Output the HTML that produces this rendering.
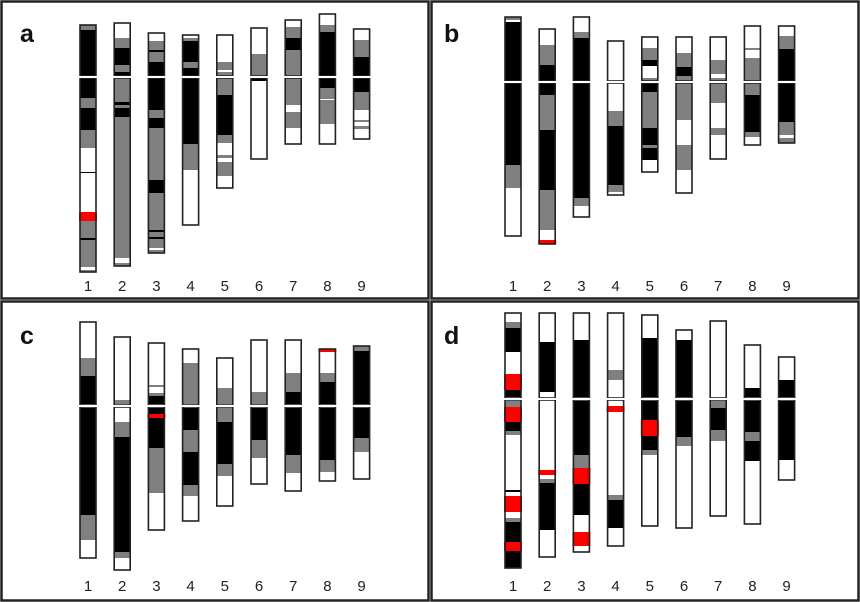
<!DOCTYPE html>
<html><head><meta charset="utf-8"><style>
html,body{margin:0;padding:0;background:#fff;}
svg{display:block;font-family:"Liberation Sans",Arial,sans-serif;}
</style></head><body>
<svg id="fig" width="860" height="602" viewBox="0 0 860 602"></svg>
<script>
// chromosome labels
const chromLabels = ['1','2','3','4','5','6','7','8','9'];
const panelNames = ['a','b','c','d'];
// centromere position (units from panel top) per panel
const centromeres = [77, 82, 106, 99];
// each chromosome: [top, bottom, bands[[start,end,type]]] ; k=black g=grey w=white r=red
const chromA = [
 [25,272,[[25,30,'g'],[30,76,'k'],[78,98,'k'],[98,108,'g'],[108,130,'k'],[130,148,'g'],[148,172,'w'],[172,173,'k'],[173,212,'w'],[212,221,'r'],[221,238,'g'],[238,240,'k'],[240,267,'g'],[267,270,'w'],[270,272,'g']]],
 [23,266,[[23,38,'w'],[38,48,'g'],[48,65,'k'],[65,72,'g'],[72,76,'k'],[78,102,'g'],[102,105,'k'],[105,108,'g'],[108,117,'k'],[117,258,'g'],[258,263,'w'],[263,266,'g']]],
 [33,253,[[33,41,'w'],[41,50,'g'],[50,52,'k'],[52,62,'g'],[62,76,'k'],[78,110,'k'],[110,118,'g'],[118,128,'k'],[128,180,'g'],[180,193,'k'],[193,230,'g'],[230,232,'k'],[232,237,'g'],[237,239,'k'],[239,248,'g'],[248,250,'w'],[250,253,'g']]],
 [35,225,[[35,38,'w'],[38,41,'g'],[41,62,'k'],[62,68,'g'],[68,76,'k'],[78,144,'k'],[144,170,'g'],[170,225,'w']]],
 [35,188,[[35,62,'w'],[62,70,'g'],[70,72,'w'],[72,76,'g'],[78,95,'g'],[95,135,'k'],[135,143,'g'],[143,155,'w'],[155,158,'g'],[158,162,'w'],[162,176,'g'],[176,188,'w']]],
 [28,159,[[28,54,'w'],[54,76,'g'],[78,81,'k'],[81,159,'w']]],
 [20,144,[[20,27,'w'],[27,38,'g'],[38,50,'k'],[50,76,'g'],[78,105,'g'],[105,112,'w'],[112,128,'g'],[128,144,'w']]],
 [14,144,[[14,25,'w'],[25,32,'g'],[32,76,'k'],[78,88,'k'],[88,99,'g'],[99,100,'w'],[100,124,'g'],[124,144,'w']]],
 [29,139,[[29,40,'w'],[40,57,'g'],[57,76,'k'],[78,88,'k'],[88,92,'k'],[92,110,'g'],[110,120,'w'],[120,122,'g'],[122,126,'w'],[126,129,'g'],[129,139,'w']]]
];
const chromB = [
 [17,236,[[17,20,'g'],[20,22,'w'],[22,81,'k'],[83,165,'k'],[165,188,'g'],[188,236,'w']]],
 [29,244,[[29,45,'w'],[45,65,'g'],[65,81,'k'],[83,95,'k'],[95,130,'g'],[130,190,'k'],[190,230,'g'],[230,240,'w'],[240,244,'r']]],
 [17,217,[[17,32,'w'],[32,38,'g'],[38,81,'k'],[83,198,'k'],[198,206,'g'],[206,217,'w']]],
 [41,195,[[41,81,'w'],[83,111,'w'],[111,126,'g'],[126,185,'k'],[185,192,'g'],[192,195,'w']]],
 [37,172,[[37,48,'w'],[48,60,'g'],[60,66,'k'],[66,78,'w'],[78,81,'g'],[83,92,'k'],[92,128,'g'],[128,145,'k'],[145,148,'g'],[148,160,'k'],[160,172,'w']]],
 [37,193,[[37,53,'w'],[53,67,'g'],[67,76,'k'],[76,81,'g'],[83,120,'g'],[120,145,'w'],[145,170,'g'],[170,193,'w']]],
 [37,159,[[37,60,'w'],[60,74,'g'],[74,78,'w'],[78,81,'g'],[83,103,'g'],[103,128,'w'],[128,135,'g'],[135,159,'w']]],
 [26,145,[[26,48,'w'],[48,50,'g'],[50,58,'w'],[58,81,'g'],[83,95,'g'],[95,132,'k'],[132,137,'g'],[137,145,'w']]],
 [26,143,[[26,36,'w'],[36,49,'g'],[49,81,'k'],[83,122,'k'],[122,135,'g'],[135,138,'w'],[138,143,'g']]]
];
const chromC = [
 [22,258,[[22,58,'w'],[58,76,'g'],[76,104,'k'],[108,215,'k'],[215,240,'g'],[240,258,'w']]],
 [37,270,[[37,100,'w'],[100,104,'g'],[108,122,'w'],[122,137,'g'],[137,252,'k'],[252,258,'g'],[258,270,'w']]],
 [43,230,[[43,85,'w'],[85,87,'g'],[87,93,'w'],[93,96,'g'],[96,104,'k'],[108,148,'k'],[114,118,'r'],[148,193,'g'],[193,230,'w']]],
 [49,221,[[49,63,'w'],[63,104,'g'],[108,130,'k'],[130,152,'g'],[152,185,'k'],[185,196,'g'],[196,221,'w']]],
 [58,206,[[58,88,'w'],[88,104,'g'],[108,122,'g'],[122,164,'k'],[164,176,'g'],[176,206,'w']]],
 [40,184,[[40,92,'w'],[92,104,'g'],[108,140,'k'],[140,158,'g'],[158,184,'w']]],
 [40,191,[[40,73,'w'],[73,92,'g'],[92,104,'k'],[108,155,'k'],[155,173,'g'],[173,191,'w']]],
 [49,181,[[49,52,'r'],[52,73,'w'],[73,82,'g'],[82,104,'k'],[108,160,'k'],[160,172,'g'],[172,181,'w']]],
 [46,179,[[46,51,'g'],[51,104,'k'],[108,138,'k'],[138,152,'g'],[152,179,'w']]]
];
const chromD = [
 [13,268,[[13,22,'w'],[22,28,'g'],[28,52,'k'],[52,74,'w'],[74,90,'r'],[90,97,'k'],[101,107,'g'],[107,122,'r'],[122,131,'k'],[131,135,'g'],[135,190,'w'],[190,192,'k'],[192,196,'w'],[196,212,'r'],[212,218,'w'],[218,222,'g'],[222,242,'k'],[242,251,'r'],[251,268,'k']]],
 [13,257,[[13,42,'w'],[42,92,'k'],[92,97,'w'],[101,170,'w'],[170,175,'r'],[175,179,'w'],[179,183,'g'],[183,230,'k'],[230,257,'w']]],
 [13,252,[[13,40,'w'],[40,97,'k'],[101,155,'k'],[155,168,'g'],[168,184,'r'],[184,215,'k'],[215,232,'w'],[232,246,'r'],[246,252,'w']]],
 [13,246,[[13,70,'w'],[70,80,'g'],[80,95,'w'],[101,106,'w'],[106,112,'r'],[112,195,'w'],[195,200,'g'],[200,228,'k'],[228,246,'w']]],
 [15,226,[[15,38,'w'],[38,97,'k'],[101,120,'k'],[120,136,'r'],[136,150,'k'],[150,155,'g'],[155,226,'w']]],
 [30,228,[[30,40,'w'],[40,97,'k'],[101,137,'k'],[137,146,'g'],[146,228,'w']]],
 [21,216,[[21,97,'w'],[101,108,'g'],[108,130,'k'],[130,141,'g'],[141,216,'w']]],
 [45,224,[[45,88,'w'],[88,97,'k'],[101,132,'k'],[132,141,'g'],[141,161,'k'],[161,224,'w']]],
 [57,180,[[57,80,'w'],[80,97,'k'],[101,160,'k'],[160,180,'w']]]
];
const panelChroms = [chromA, chromB, chromC, chromD];

const NS='http://www.w3.org/2000/svg';
const svg=document.getElementById('fig');
const panelOrigin=[[0,0],[430,0],[0,300],[430,300]];
const xFirst=[88,83,88,83], xStep=34.2, W=16;
const colors={k:'#000',g:'#808080',w:'#fff',r:'#ff0000'};
function mk(t,a){const e=document.createElementNS(NS,t);for(const k in a)e.setAttribute(k,a[k]);return e;}
function xScale(p,i){return panelOrigin[p][0]+xFirst[p]+i*xStep;}
function yScale(p,v){return panelOrigin[p][1]+v;}

panelChroms.forEach((chroms,p)=>{
  const [ox,oy]=panelOrigin[p];
  const g=mk('g',{});
  
  
  svg.appendChild(g);
  const cen=centromeres[p];
  chroms.forEach((c,i)=>{
    const cx=xScale(p,i), x0=cx-W/2;
    const cg=mk('g',{});
    
    
    g.appendChild(cg);
    c[2].forEach(b=>{
      const red=b[2]==='r';
      const r=mk('rect',{x:red?x0-1:x0,y:yScale(p,b[0]),width:red?W+2:W,height:b[1]-b[0],fill:colors[b[2]]});
      
      
      cg.appendChild(r);
    });
    const o1=mk('rect',{x:x0,y:yScale(p,c[0]),width:W,height:cen-1-c[0],fill:'none',stroke:'#222','stroke-width':1.6});
    
    
    cg.appendChild(o1);
    const o2=mk('rect',{x:x0,y:yScale(p,cen+1),width:W,height:c[1]-cen-1,fill:'none',stroke:'#222','stroke-width':1.6});
    
    
    cg.appendChild(o2);
    const gap=mk('rect',{x:x0-2,y:yScale(p,cen)-1,width:W+4,height:2,fill:'#fff'});
    
    
    cg.appendChild(gap);
    const t=mk('text',{x:cx,y:oy+291,'text-anchor':'middle','font-size':15,fill:'#222'});
    t.textContent=chromLabels[i];
    
    
    g.appendChild(t);
  });
  const lb=mk('text',{x:ox+(p%2?14:20),y:oy+(p<2?42:44),'font-size':25,'font-weight':'bold',fill:'#111'});
  lb.textContent=panelNames[p];
  
  
  g.appendChild(lb);
  const fr=mk('rect',{x:ox+1.5,y:oy+1.5,width:427,height:p<2?297:299,fill:'none',stroke:'#222','stroke-width':2.5});
  
  
  g.appendChild(fr);
});
</script>
</body></html>
